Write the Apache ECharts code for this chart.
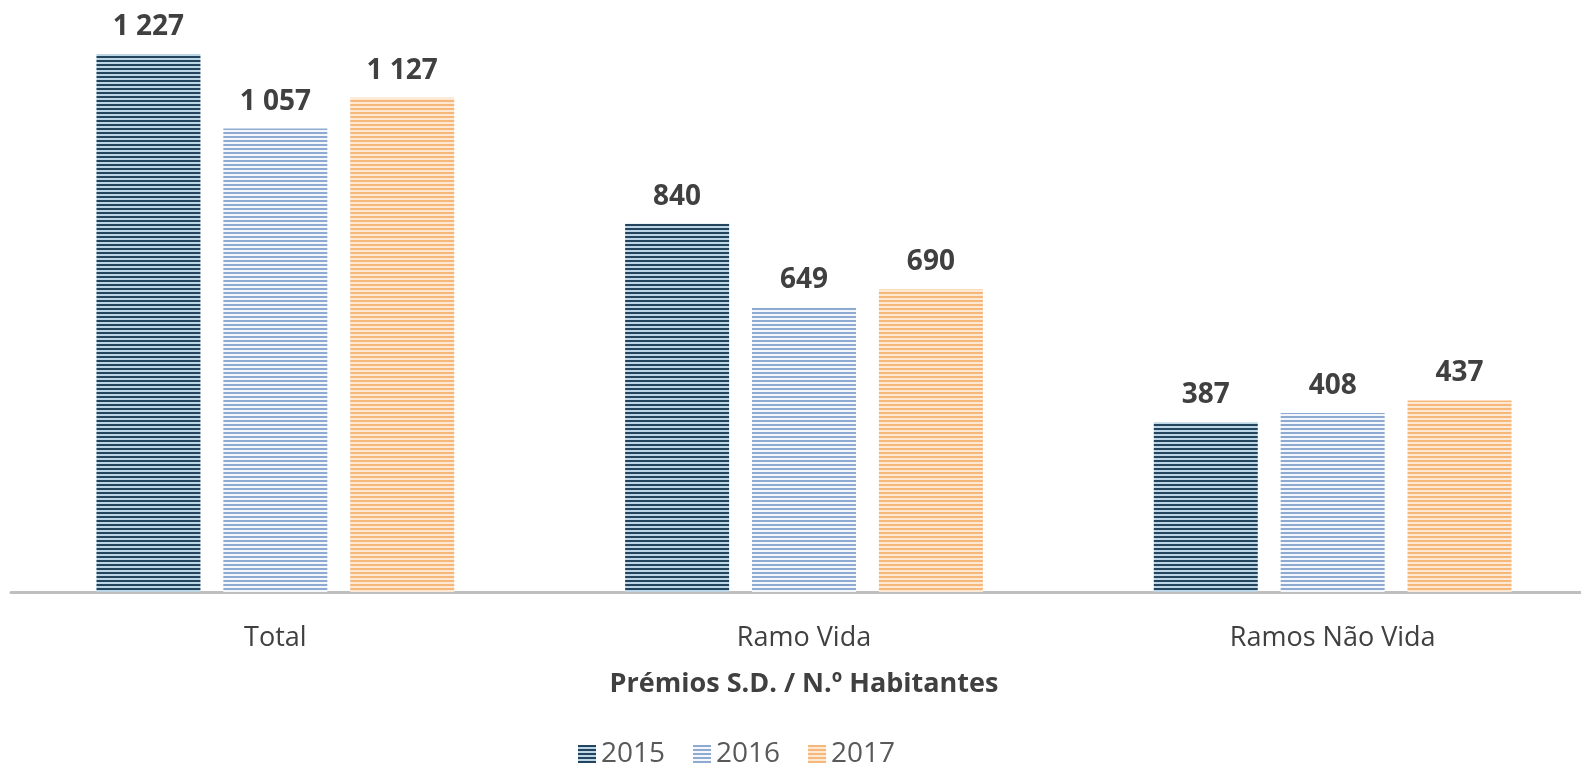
<!DOCTYPE html>
<html><head><meta charset="utf-8">
<script src="https://cdn.jsdelivr.net/npm/echarts@6/dist/echarts.min.js"></script>
<style>html,body{margin:0;padding:0;background:#fff}#c{width:1581px;height:764px}</style>
</head><body><div id="c"></div>
<script>
const categories = ['Total', 'Ramo Vida', 'Ramos Não Vida'];
const seriesNames = ['2015', '2016', '2017'];
const values2015 = [1227, 840, 387];
const values2016 = [1057, 649, 408];
const values2017 = [1127, 690, 437];
const axisTitle = 'Prémios S.D. / N.º Habitantes';

function stripe(dark, light) {
  const c = document.createElement('canvas');
  c.width = 4; c.height = 4;
  const g = c.getContext('2d');
  g.fillStyle = light; g.fillRect(0, 0, 4, 4);
  g.fillStyle = dark; g.fillRect(0, 0, 4, 2);
  return { image: c, repeat: 'repeat' };
}
const fills = [
  stripe('#22455d', '#bcd6e6'),
  stripe('#8eaad0', '#f4f7fb'),
  stripe('#f6b77a', '#fde8d3')
];
const font = 'Open Sans';
const allVals = [values2015, values2016, values2017];
const chart = echarts.init(document.getElementById('c'));
chart.setOption({
  animation: false,
  textStyle: { fontFamily: font },
  grid: { left: 11, width: 1586, top: 22, bottom: 172, containLabel: false, outerBoundsMode: 'none' },
  xAxis: {
    type: 'category', data: categories,
    axisLine: { lineStyle: { color: '#bfbfbf', width: 3 } },
    axisTick: { show: false },
    axisLabel: { color: '#404040', fontSize: 27, margin: 33, fontFamily: font },
    name: axisTitle, nameLocation: 'middle', nameGap: 79,
    nameTextStyle: { color: '#404040', fontSize: 27, fontWeight: 'bold', fontFamily: font }
  },
  yAxis: { type: 'value', min: 0, max: 1300, show: false, splitLine: { show: false } },
  legend: {
    top: 735, left: 573, itemWidth: 18, itemHeight: 18, itemGap: 28,
    icon: 'rect',
    textStyle: { color: '#595959', fontSize: 28, fontFamily: font },
    data: seriesNames
  },
  series: seriesNames.map((n, i) => ({
    name: n, type: 'bar', data: allVals[i],
    barWidth: 104, barGap: '22%',
    itemStyle: { color: fills[i] },
    label: {
      show: true, position: 'top', distance: 13,
      color: '#404040', fontSize: 28, fontWeight: 'bold', fontFamily: font,
      formatter: p => String(p.value).replace(/\B(?=(\d{3})+(?!\d))/g, ' ')
    }
  }))
});
</script></body></html>
